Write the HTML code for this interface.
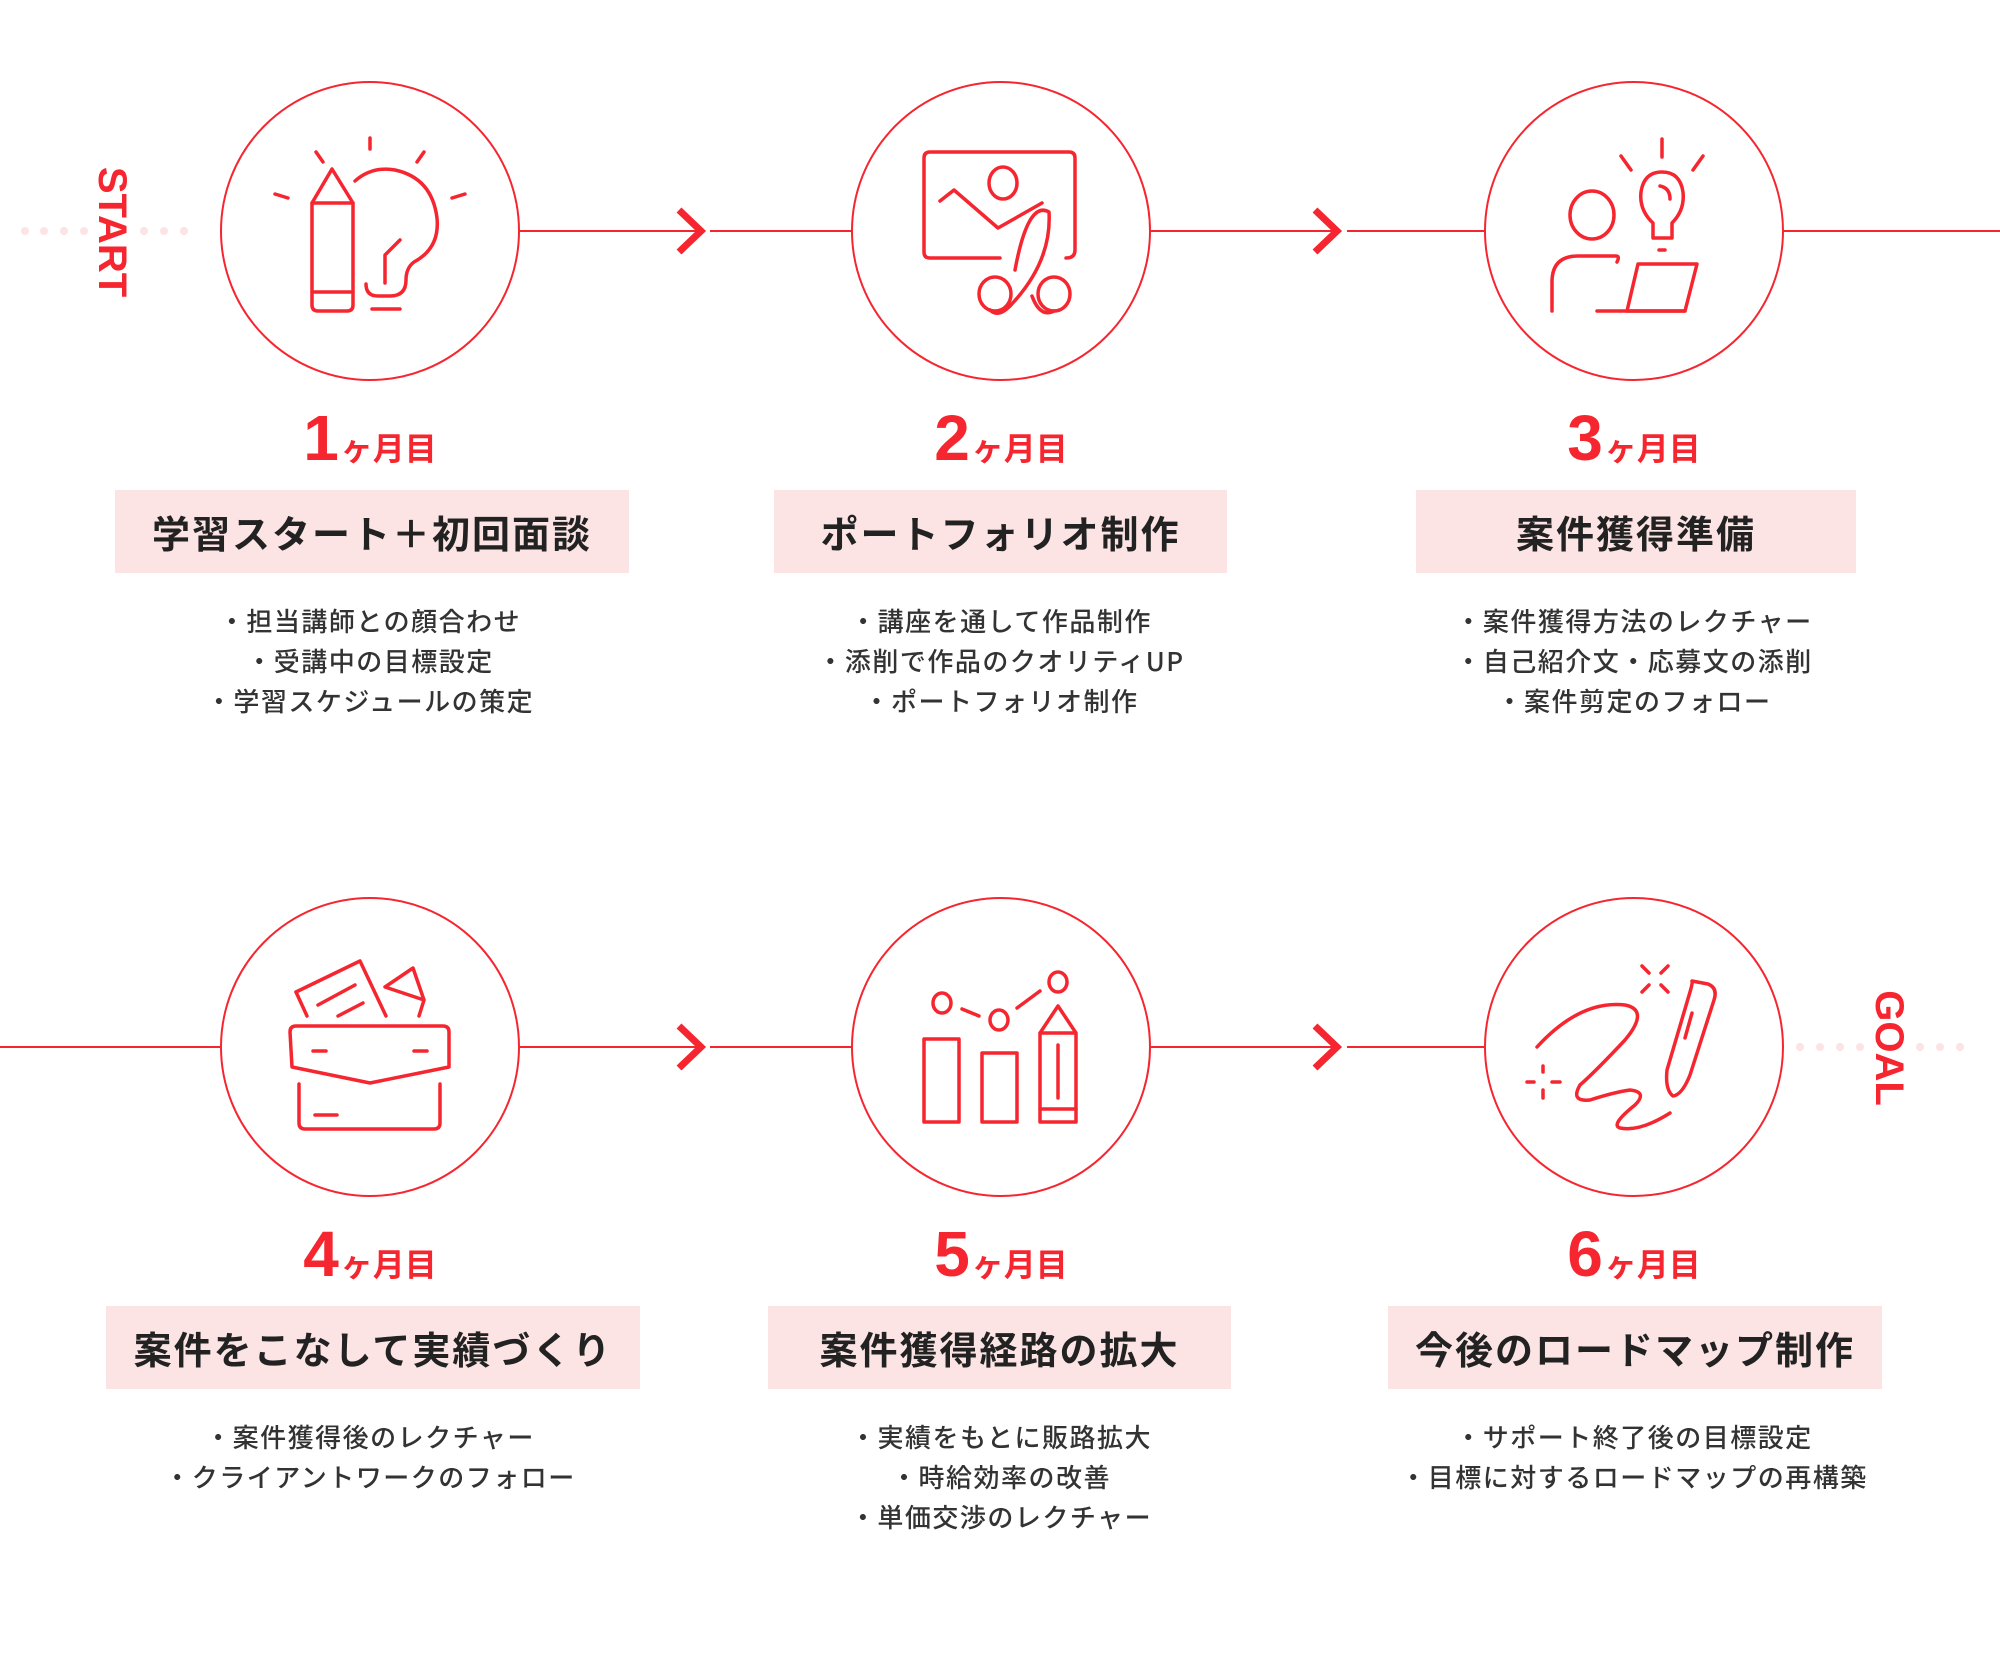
<!DOCTYPE html>
<html><head><meta charset="utf-8">
<style>
html,body{margin:0;padding:0;background:#fff;}
body{width:2000px;height:1664px;position:relative;overflow:hidden;font-family:"Liberation Sans","Noto Sans CJK JP",sans-serif;}
.m{position:absolute;width:600px;text-align:center;color:#f5262f;font-weight:bold;white-space:nowrap;}
.m .n{font-family:"Liberation Sans",sans-serif;font-size:64px;}
.m .k{font-family:"Noto Sans CJK JP",sans-serif;font-size:32px;margin-left:2px;}
.b{position:absolute;height:83px;background:#fce4e5;color:#222;font-family:"Noto Sans CJK JP",sans-serif;font-weight:bold;font-size:38px;line-height:83px;text-align:center;white-space:nowrap;letter-spacing:2px;}
.l{position:absolute;width:700px;text-align:center;color:#333;font-family:"Noto Sans CJK JP",sans-serif;font-weight:500;font-size:26px;line-height:40px;letter-spacing:1.5px;white-space:nowrap;}
.v{position:absolute;color:#f5262f;font-family:"Liberation Sans",sans-serif;font-weight:bold;font-size:40px;transform:rotate(90deg);transform-origin:center center;width:200px;text-align:center;line-height:40px;}
svg{position:absolute;left:0;top:0;}
</style></head><body>
<svg width="2000" height="1664" viewBox="0 0 2000 1664" fill="none" stroke="#f5262f" stroke-linecap="round" stroke-linejoin="round">
<g fill="#fce4e5" stroke="none">
<circle cx="25" cy="231" r="4"/><circle cx="44" cy="231" r="4"/><circle cx="64" cy="231" r="4"/><circle cx="84" cy="231" r="4"/><circle cx="144" cy="231" r="4"/><circle cx="164" cy="231" r="4"/><circle cx="184" cy="231" r="4"/>
<circle cx="1800" cy="1047" r="4"/><circle cx="1820" cy="1047" r="4"/><circle cx="1840" cy="1047" r="4"/><circle cx="1860" cy="1047" r="4"/><circle cx="1920" cy="1047" r="4"/><circle cx="1940" cy="1047" r="4"/><circle cx="1960" cy="1047" r="4"/>
</g>
<g stroke-width="2" stroke-linecap="butt">
<line x1="519" y1="231" x2="700" y2="231"/><line x1="710" y1="231" x2="852" y2="231"/>
<line x1="1150" y1="231" x2="1336" y2="231"/><line x1="1347" y1="231" x2="1485" y2="231"/>
<line x1="1783" y1="231" x2="2000" y2="231"/>
<line x1="0" y1="1047" x2="221" y2="1047"/>
<line x1="519" y1="1047" x2="700" y2="1047"/><line x1="710" y1="1047" x2="852" y2="1047"/>
<line x1="1150" y1="1047" x2="1336" y2="1047"/><line x1="1347" y1="1047" x2="1485" y2="1047"/>
</g>
<g stroke-width="7" stroke-linecap="butt" stroke-linejoin="miter">
<polyline points="679,210 701,231 679,252"/>
<polyline points="1315,210 1337,231 1315,252"/>
<polyline points="679,1026 701,1047 679,1068"/>
<polyline points="1315,1026 1337,1047 1315,1068"/>
</g>
<g stroke-width="2">
<circle cx="370" cy="231" r="149"/><circle cx="1001" cy="231" r="149"/><circle cx="1634" cy="231" r="149"/>
<circle cx="370" cy="1047" r="149"/><circle cx="1001" cy="1047" r="149"/><circle cx="1634" cy="1047" r="149"/>
</g>
<g stroke-width="3.5">
<path d="M332,169 L312,203 L312,305 Q312,311 318,311 L347,311 Q353,311 353,305 L353,203 Z"/>
<line x1="312" y1="203" x2="353" y2="203"/><line x1="312" y1="292" x2="353" y2="292"/>
<path d="M355,181 Q372,166 395,170 Q432,178 437,218 Q440,248 414,262 Q406,268 406,280 Q406,296 390,296 L378,296 Q366,296 366,284"/>
<path d="M400,240 L385,255 L385,283"/>
<line x1="372" y1="309" x2="400" y2="309"/>
<line x1="370" y1="138" x2="370" y2="149"/>
<line x1="316" y1="152" x2="323" y2="162"/><line x1="424" y1="152" x2="417" y2="162"/>
<line x1="275" y1="194" x2="288" y2="198"/><line x1="465" y1="194" x2="452" y2="198"/>
<path d="M1000,258 L930,258 Q924,258 924,252 L924,158 Q924,152 930,152 L1069,152 Q1075,152 1075,158 L1075,250 Q1075,258 1066,258"/>
<ellipse cx="1003" cy="183" rx="14" ry="16"/>
<polyline points="940,201 954,190 998,228 1042,203"/>
<path d="M1015,270 Q1028,200 1049,212 Q1052,262 1010,306 Q998,318 990,310"/>
<ellipse cx="995" cy="294" rx="16" ry="17"/><ellipse cx="1054" cy="294" rx="16" ry="17"/>
<path d="M1032,296 Q1040,318 1054,311"/>
<ellipse cx="1592" cy="215" rx="22" ry="24"/>
<path d="M1552,311 L1552,282 Q1552,256 1578,256 L1616,256 Q1620,256 1617,262"/>
<polygon points="1638,264 1697,264 1685,311 1627,311"/>
<line x1="1597" y1="311" x2="1685" y2="311"/>
<path d="M1653,238 L1653,223 Q1639,210 1641,192 Q1644,172 1662,172 Q1680,172 1683,192 Q1685,210 1672,223 L1672,238 Z"/>
<path d="M1660,186 Q1670,188 1670,199"/>
<line x1="1659" y1="250" x2="1665" y2="250"/>
<line x1="1662" y1="139" x2="1662" y2="157"/>
<line x1="1621" y1="156" x2="1631" y2="170"/><line x1="1703" y1="156" x2="1693" y2="170"/>
<path d="M296,992 L360,961 L386,1016"/><line x1="296" y1="992" x2="307" y2="1016"/>
<line x1="318" y1="1005" x2="355" y2="985"/><line x1="338" y1="1016" x2="363" y2="1003"/>
<polygon points="413,968 385,987 424,1000"/><line x1="424" y1="1000" x2="419" y2="1016"/>
<path d="M296,1026 L443,1026 Q449,1026 449,1032 L449,1067 L370,1083 L292,1067 L290,1032 Q290,1026 296,1026 Z"/>
<path d="M299,1084 L299,1123 Q299,1129 305,1129 L434,1129 Q440,1129 440,1123 L440,1084"/>
<line x1="313" y1="1051" x2="326" y2="1051"/><line x1="414" y1="1051" x2="427" y2="1051"/>
<line x1="315" y1="1115" x2="337" y2="1115"/>
<rect x="924" y="1039" width="35" height="83"/>
<rect x="982" y="1053" width="35" height="69"/>
<path d="M1040,1033 L1076,1033 L1076,1122 L1040,1122 Z M1040,1033 L1058,1006 L1076,1033"/>
<line x1="1040" y1="1109" x2="1076" y2="1109"/><line x1="1058" y1="1045" x2="1058" y2="1098"/>
<ellipse cx="942" cy="1003" rx="9" ry="10"/><ellipse cx="999" cy="1020" rx="9" ry="10"/><ellipse cx="1058" cy="982" rx="9" ry="10"/>
<line x1="962" y1="1009" x2="979" y2="1016"/><line x1="1017" y1="1008" x2="1040" y2="991"/>
<path d="M1537,1047 Q1580,1000 1625,1005 Q1650,1010 1625,1040 Q1595,1072 1580,1085 Q1570,1102 1590,1100 Q1615,1092 1630,1090 Q1648,1092 1635,1105 Q1610,1125 1620,1128 Q1640,1132 1670,1113"/>
<path d="M1692,981 L1708,984 Q1718,988 1714,1000 L1690,1075 Q1682,1095 1673,1096 Q1665,1090 1667,1070 L1690,992 Q1693,982 1692,981 Z"/>
<line x1="1692" y1="1013" x2="1685" y2="1038"/>
<line x1="1543" y1="1066" x2="1543" y2="1072"/><line x1="1543" y1="1090" x2="1543" y2="1098"/>
<line x1="1527" y1="1082" x2="1534" y2="1082"/><line x1="1552" y1="1082" x2="1560" y2="1082"/>
<line x1="1642" y1="966" x2="1649" y2="973"/><line x1="1668" y1="966" x2="1661" y2="973"/>
<line x1="1642" y1="992" x2="1649" y2="985"/><line x1="1668" y1="992" x2="1661" y2="985"/>
</g>
</svg>

<div class="v" style="left:12px;top:212px;">START</div>
<div class="v" style="left:1789px;top:1028px;">GOAL</div>

<div class="m" style="left:70px;top:401px;"><span class="n">1</span><span class="k">ヶ月目</span></div>
<div class="m" style="left:701px;top:401px;"><span class="n">2</span><span class="k">ヶ月目</span></div>
<div class="m" style="left:1334px;top:401px;"><span class="n">3</span><span class="k">ヶ月目</span></div>

<div class="b" style="left:115px;top:490px;width:514px;">学習スタート＋初回面談</div>
<div class="b" style="left:774px;top:490px;width:453px;">ポートフォリオ制作</div>
<div class="b" style="left:1416px;top:490px;width:440px;">案件獲得準備</div>

<div class="l" style="left:20px;top:601px;">・担当講師との顔合わせ<br>・受講中の目標設定<br>・学習スケジュールの策定</div>
<div class="l" style="left:651px;top:601px;">・講座を通して作品制作<br>・添削で作品のクオリティUP<br>・ポートフォリオ制作</div>
<div class="l" style="left:1284px;top:601px;">・案件獲得方法のレクチャー<br>・自己紹介文・応募文の添削<br>・案件剪定のフォロー</div>

<div class="m" style="left:70px;top:1217px;"><span class="n">4</span><span class="k">ヶ月目</span></div>
<div class="m" style="left:701px;top:1217px;"><span class="n">5</span><span class="k">ヶ月目</span></div>
<div class="m" style="left:1334px;top:1217px;"><span class="n">6</span><span class="k">ヶ月目</span></div>

<div class="b" style="left:106px;top:1306px;width:534px;">案件をこなして実績づくり</div>
<div class="b" style="left:768px;top:1306px;width:463px;">案件獲得経路の拡大</div>
<div class="b" style="left:1388px;top:1306px;width:494px;">今後のロードマップ制作</div>

<div class="l" style="left:20px;top:1417px;">・案件獲得後のレクチャー<br>・クライアントワークのフォロー</div>
<div class="l" style="left:651px;top:1417px;">・実績をもとに販路拡大<br>・時給効率の改善<br>・単価交渉のレクチャー</div>
<div class="l" style="left:1284px;top:1417px;">・サポート終了後の目標設定<br>・目標に対するロードマップの再構築</div>
</body></html>
